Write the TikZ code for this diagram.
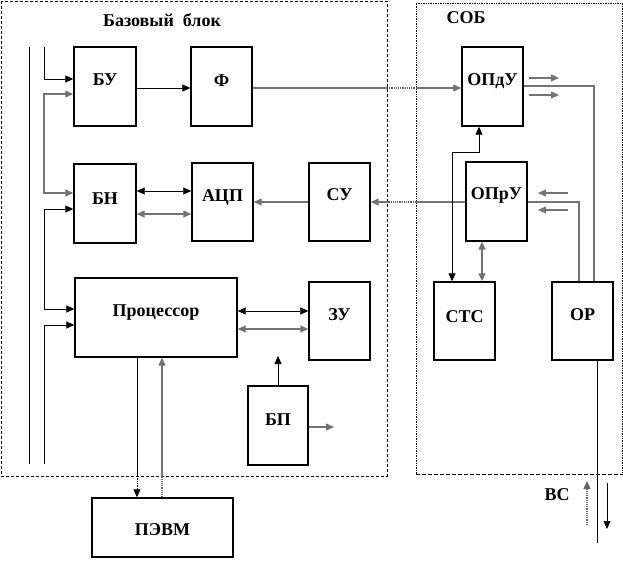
\documentclass[tikz,border=0pt]{standalone}
\usepackage{fontspec}
\setmainfont{Liberation Serif}
\usetikzlibrary{arrows.meta}
\begin{document}
\begin{tikzpicture}[x=1pt,y=-1pt,
  box/.style={draw,line width=1.4pt,inner sep=0pt},
  lbl/.style={font=\fontsize{18}{18}\selectfont\bfseries,inner sep=0pt},
  bc/.style={line width=0.7pt,draw=black},
  gc/.style={line width=1.2pt,draw=black!55},
  dc/.style={line width=1.2pt,draw=black!60,densely dotted},
  tip/.style={-{Triangle[length=8pt,width=7pt]}},
  rtip/.style={{Triangle[length=8pt,width=7pt]}-},
  tips/.style={{Triangle[length=8pt,width=7pt]}-{Triangle[length=8pt,width=7pt]}}
]
\useasboundingbox (0,0) rectangle (623,561);
% group frames
\draw[line width=0.7pt,dash pattern=on 3pt off 2pt] (1,1) rectangle (387,476);
\draw[line width=0.7pt,densely dotted] (416,474) -- (416,3) -- (622,3) -- (622,474);
\draw[line width=0.7pt,dash pattern=on 4pt off 2pt] (416,474) -- (622,474);
\node[lbl] (tbase) at (162,20) {Базовый\ \ блок};
\node[lbl] (tsob) at (466,18) {СОБ};
% boxes
\node[box,minimum width=62pt,minimum height=79pt] (bu) at (105,86.5) {};
\node[box,minimum width=61pt,minimum height=79pt] (f) at (221.5,86.5) {};
\node[box,minimum width=62pt,minimum height=79pt] (bn) at (105,203.5) {};
\node[box,minimum width=61pt,minimum height=78pt] (adc) at (222.5,202) {};
\node[box,minimum width=61pt,minimum height=78pt] (su) at (339.5,202) {};
\node[box,minimum width=61pt,minimum height=79pt] (opdu) at (492.5,86.5) {};
\node[box,minimum width=61pt,minimum height=79pt] (opru) at (496.5,201.5) {};
\node[box,minimum width=162pt,minimum height=79pt] (proc) at (156,317.5) {};
\node[box,minimum width=61pt,minimum height=78pt] (zu) at (339.5,321) {};
\node[box,minimum width=60pt,minimum height=79pt] (bp) at (278,425.5) {};
\node[box,minimum width=141pt,minimum height=59pt] (pevm) at (162.5,527.5) {};
\node[box,minimum width=61pt,minimum height=78pt] (stc) at (464.5,321) {};
\node[box,minimum width=61pt,minimum height=78pt] (or) at (582.5,321) {};
% labels
\node[lbl] (lbu) at (105,80) {БУ};
\node[lbl] (lf) at (221.5,81) {Ф};
\node[lbl] (lbn) at (105,199) {БН};
\node[lbl] (ladc) at (222.5,197) {АЦП};
\node[lbl] (lsu) at (339.5,195) {СУ};
\node[lbl] (lopdu) at (492.5,81) {ОПдУ};
\node[lbl] (lopru) at (496.5,195) {ОПрУ};
\node[lbl] (lproc) at (156,313) {Процессор};
\node[lbl] (lzu) at (339.5,315) {ЗУ};
\node[lbl] (lbp) at (278,420) {БП};
\node[lbl] (lpevm) at (162.5,530) {ПЭВМ};
\node[lbl] (lstc) at (464.5,317) {СТС};
\node[lbl] (lor) at (582.5,315) {ОР};
\node[lbl] (lvs) at (557,495) {ВС};
% helper coordinates
\coordinate (b1t) at (29,47);  \coordinate (b1b) at (29,464);
\coordinate (s1t) at (44,47);  \coordinate (s1b) at (44,79);
\coordinate (s2t) at (44,94);  \coordinate (s2b) at (44,193);
\coordinate (s3t) at (44,209); \coordinate (s3b) at (44,309);
\coordinate (s4t) at (44,325); \coordinate (s4b) at (44,464);
\coordinate (y88) at (0,88);
\coordinate (fx1) at (387,88); \coordinate (fx2) at (416,88);
\coordinate (y191) at (0,191); \coordinate (y214) at (0,214);
\coordinate (y202) at (0,202);
\coordinate (sx1) at (387,202); \coordinate (sx2) at (416,202);
\coordinate (o1a) at (529,78); \coordinate (o1b) at (559,78);
\coordinate (o2a) at (529,95); \coordinate (o2b) at (559,95);
\coordinate (c594) at (594,86);
\coordinate (c579) at (579,202);
\coordinate (i1a) at (568,193); \coordinate (i1b) at (538,193);
\coordinate (i2a) at (568,210); \coordinate (i2b) at (538,210);
\coordinate (c479) at (479,152); \coordinate (c452) at (452,152);
\coordinate (c482) at (482,0);
\coordinate (c597) at (597,543);
\coordinate (v1a) at (587,525); \coordinate (v1b) at (587,481);
\coordinate (v2a) at (607,483); \coordinate (v2b) at (607,529);
\coordinate (y311) at (0,311); \coordinate (y329) at (0,329);
\coordinate (bpe) at (278,356);
\coordinate (y427) at (0,427); \coordinate (bpr) at (334,427);
\coordinate (c137) at (137,476); \coordinate (c162) at (162,476);
% left bus
\draw[bc] (b1t) -- (b1b);
\draw[bc,tip] (s1t) -- (s1b) -- (bu.west |- s1b);
\draw[gc,tips] (bu.west |- s2t) -- (s2t) -- (s2b) -- (bn.west |- s2b);
\draw[bc,tips] (bn.west |- s3t) -- (s3t) -- (s3b) -- (proc.west |- s3b);
\draw[bc,rtip] (proc.west |- s4t) -- (s4t) -- (s4b);
% top row
\draw[bc,tip] (bu.east |- y88) -- (f.west |- y88);
\draw[gc] (f.east |- y88) -- (fx1);
\draw[dc] (fx1) -- (fx2);
\draw[gc,tip] (fx2) -- (opdu.west |- y88);
% second row
\draw[bc,tips] (bn.east |- y191) -- (adc.west |- y191);
\draw[gc,tips] (bn.east |- y214) -- (adc.west |- y214);
\draw[gc,tip] (su.west |- y202) -- (adc.east |- y202);
\draw[gc] (opru.west |- y202) -- (sx2);
\draw[dc] (sx2) -- (sx1);
\draw[gc,tip] (sx1) -- (su.east |- y202);
% СОБ
\draw[gc,tip] (o1a) -- (o1b);
\draw[gc,tip] (o2a) -- (o2b);
\draw[gc] (opdu.east |- c594) -- (c594) -- (c594 |- or.north);
\draw[gc] (opru.east |- c579) -- (c579) -- (c579 |- or.north);
\draw[gc,tip] (i1a) -- (i1b);
\draw[gc,tip] (i2a) -- (i2b);
\draw[bc,tips] (c479 |- opdu.south) -- (c479) -- (c452) -- (c452 |- stc.north);
\draw[gc,tips] (c482 |- opru.south) -- (c482 |- stc.north);
\draw[bc] (c597 |- or.south) -- (c597);
\draw[line width=1.2pt,draw=black!60,densely dotted,tip] (v1a) -- (v1b);
\draw[bc,tip] (v2a) -- (v2b);
% processor
\draw[bc,tips] (proc.east |- y311) -- (zu.west |- y311);
\draw[gc,tips] (proc.east |- y329) -- (zu.west |- y329);
\draw[bc,tip] (bp.north) -- (bpe);
\draw[gc,tip] (bp.east |- y427) -- (bpr);
\draw[bc] (c137 |- proc.south) -- (c137);
\draw[bc,densely dotted,tip] (c137) -- (c137 |- pevm.north);
\draw[dc] (c162 |- pevm.north) -- (c162);
\draw[gc,tip] (c162) -- (c162 |- proc.south);
\end{tikzpicture}
\end{document}
